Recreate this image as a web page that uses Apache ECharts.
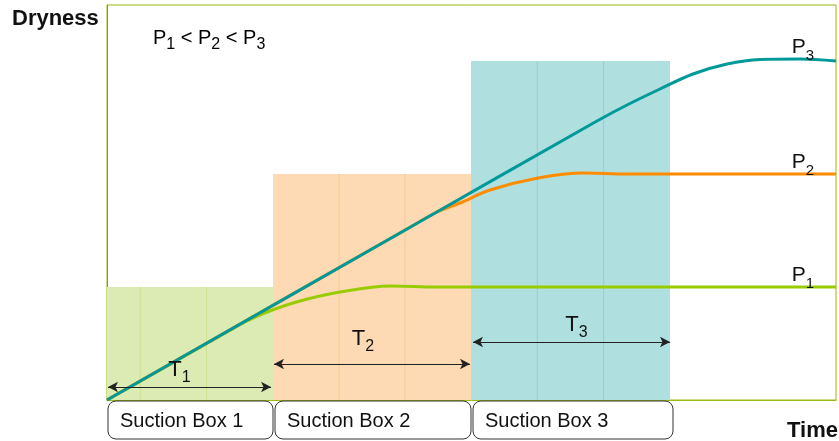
<!DOCTYPE html>
<html>
<head>
<meta charset="utf-8">
<script src="https://cdn.jsdelivr.net/npm/echarts@6/dist/echarts.min.js"></script>
<style>
  html, body { margin: 0; padding: 0; background: #fff; }
  #chart { width: 839px; height: 441px; }
</style>
</head>
<body>
<div id="chart"></div>
<script>
// time runs 0..729, dryness 0..395 (arbitrary units)
const p1 = [[0, 0], [120, 68], [140, 79], [160, 88], [193, 99], [233, 108], [283, 114], [330, 113], [383, 113], [729, 113]];
const p2 = [[0, 0], [300, 171], [330, 188], [353, 197], [383, 210], [431, 222], [476, 227], [520, 226], [583, 226], [729, 226]];
const p3 = [[0, 0], [300, 171], [490, 279], [520, 295], [553, 311], [586, 326], [620, 336], [653, 340.5], [693, 341], [729, 339]];

// suction boxes: start, end, dryness reached
const boxes = [[0, 166, 113], [166, 364, 226], [364, 563, 339]];
const boxLabels = ['Suction Box 1', 'Suction Box 2', 'Suction Box 3'];
const boxFrames = [[1, 166], [168, 364], [366, 566]];
const spans = [[1, 164, 13, '1'], [167, 363, 36, '2'], [366, 563, 58, '3']];

const fills = ['#dcebb3', '#fddab3', '#b0dfdf'];
const inner = ['#cde28f', '#f9c898', '#8fd1d1'];

const chart = echarts.init(document.getElementById('chart'));

function subStyle(big, small, lift) {
  return {
    t: { fontSize: big, color: '#111', padding: [0, 0, lift, 0], verticalAlign: 'bottom', fontFamily: 'Liberation Sans' },
    s: { fontSize: small, color: '#111', verticalAlign: 'bottom', fontFamily: 'Liberation Sans' }
  };
}
const pRich = subStyle(21, 15, 6);
const tRich = subStyle(22, 16, 5);

chart.setOption({
  animation: false,
  grid: { left: 107, right: 3, top: 5, bottom: 41, show: true, borderColor: '#99bb11', borderWidth: 1 },
  xAxis: {
    type: 'value', min: 0, max: 729,
    axisLine: { show: true, lineStyle: { color: '#99bb11' } },
    axisTick: { show: false }, axisLabel: { show: false }, splitLine: { show: false }
  },
  yAxis: {
    type: 'value', min: 0, max: 395,
    axisLine: { show: true, lineStyle: { color: '#888' } },
    axisTick: { show: false }, axisLabel: { show: false }, splitLine: { show: false }
  },
  graphic: [
    { type: 'text', left: 12, top: 8, style: { text: 'Dryness', font: 'bold 22px "Liberation Sans"', fill: '#111' } },
    { type: 'text', right: 1, top: 420, style: { text: 'Time', font: 'bold 22px "Liberation Sans"', fill: '#111' } },
    {
      type: 'text', left: 153, top: 28,
      style: {
        text: '{t|P}{s|1}{t| < P}{s|2}{t| < P}{s|3}',
        rich: subStyle(20, 16, 5)
      }
    }
  ],
  series: [
    {
      type: 'custom',
      z: 1,
      data: boxes,
      renderItem: function (params, api) {
        const i = params.dataIndex;
        const a = api.coord([api.value(0), api.value(2)]);
        const b = api.coord([api.value(1), 0]);
        const w = b[0] - a[0];
        const fr = i === 0 ? [0.2, 0.6] : [1 / 3, 2 / 3];
        const kids = [{
          type: 'rect',
          shape: { x: a[0], y: a[1], width: w, height: b[1] - a[1] },
          style: { fill: fills[i] }
        }];
        fr.forEach(function (f) {
          kids.push({
            type: 'line',
            shape: { x1: a[0] + w * f, y1: a[1], x2: a[0] + w * f, y2: b[1] },
            style: { stroke: inner[i], lineWidth: 1 }
          });
        });
        return { type: 'group', children: kids };
      }
    },
    {
      type: 'custom',
      z: 5,
      clip: false,
      data: boxFrames.map(function (d, i) { return [d[0], d[1], i]; }),
      renderItem: function (params, api) {
        const a = api.coord([api.value(0), 0]);
        const b = api.coord([api.value(1), 0]);
        return {
          type: 'group',
          children: [{
            type: 'rect',
            shape: { x: a[0], y: a[1] + 1, width: b[0] - a[0], height: 38, r: 8 },
            style: { fill: '#fff', stroke: '#333', lineWidth: 1 }
          }, {
            type: 'text',
            style: {
              text: boxLabels[api.value(2)],
              x: a[0] + 12, y: a[1] + 21,
              align: 'left', verticalAlign: 'middle',
              font: '20px "Liberation Sans"', fill: '#111'
            }
          }]
        };
      }
    },
    {
      name: 'P1', type: 'line', data: p1, smooth: 0.35, symbol: 'none', z: 3,
      lineStyle: { color: '#99cc00', width: 3 },
      markPoint: {
        symbol: 'circle', symbolSize: 0,
        data: [{ coord: [696, 113] }],
        label: { show: true, offset: [0, -9], formatter: '{t|P}{s|1}', rich: pRich }
      }
    },
    {
      name: 'P2', type: 'line', data: p2, smooth: 0.35, symbol: 'none', z: 3,
      lineStyle: { color: '#ff8c00', width: 3 },
      markPoint: {
        symbol: 'circle', symbolSize: 0,
        data: [{ coord: [696, 226] }],
        label: { show: true, offset: [0, -9], formatter: '{t|P}{s|2}', rich: pRich }
      }
    },
    {
      name: 'P3', type: 'line', data: p3, smooth: 0.35, symbol: 'none', z: 4,
      lineStyle: { color: '#009999', width: 3 },
      markPoint: {
        symbol: 'circle', symbolSize: 0,
        data: [{ coord: [696, 341] }],
        label: { show: true, offset: [0, -9], formatter: '{t|P}{s|3}', rich: pRich }
      },
      markLine: {
        silent: true,
        symbol: ['arrow', 'arrow'],
        symbolSize: [8, 10],
        lineStyle: { color: '#222', width: 1, type: 'solid' },
        label: { show: true, position: 'middle', distance: 1, rich: tRich },
        data: spans.map(function (s, i) {
          const pad = i === 0 ? [0, 20, 0, 0] : (i === 1 ? [0, 18, 8, 0] : [0, 0, 0, 10]);
          return [
            { coord: [s[0], s[2]], label: { formatter: '{t|T}{s|' + s[3] + '}', padding: pad } },
            { coord: [s[1], s[2]] }
          ];
        })
      }
    }
  ]
});
</script>
</body>
</html>
